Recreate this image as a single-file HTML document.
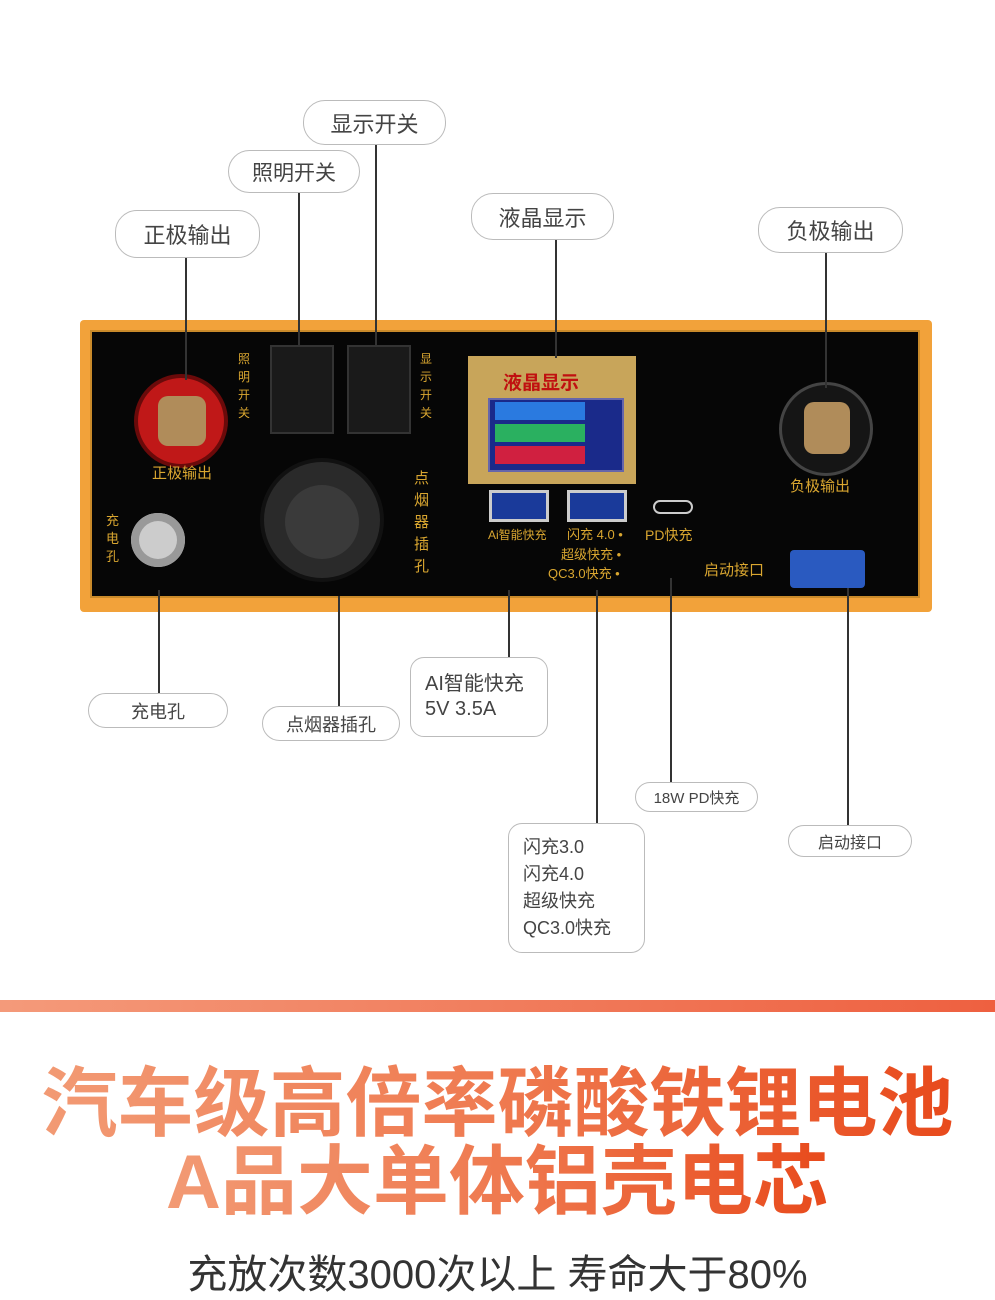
<!DOCTYPE html>
<html><head><meta charset="utf-8"><style>
body{margin:0;width:995px;height:1280px;background:#fff;position:relative;overflow:hidden;font-family:"Liberation Sans","Noto Sans CJK SC",sans-serif}
.p{position:absolute;border:1.5px solid #bbb;border-radius:22px;background:#fff;color:#444;display:flex;align-items:center;justify-content:center;box-sizing:border-box}
.l{position:absolute;width:1.5px;background:#333}
.a{position:absolute}
.t{position:absolute;color:#d9a630;font-size:15px;line-height:16px}
.g{background:linear-gradient(90deg,#f29a74 0%,#ef7a50 50%,#e84a1c 100%);-webkit-background-clip:text;background-clip:text;color:transparent}
</style></head><body>
<!-- panel -->
<div class="a" style="left:80px;top:320px;width:852px;height:292px;background:#f2a23a;border-radius:4px"></div>
<div class="a" style="left:90px;top:330px;width:830px;height:268px;background:#060606;border:2px solid #c98a2a;box-sizing:border-box"></div>
<!-- red terminal -->
<div class="a" style="left:138px;top:378px;width:86px;height:86px;border-radius:50%;background:#c01818;box-shadow:0 0 0 4px #6a0a0a"></div>
<div class="a" style="left:158px;top:396px;width:48px;height:50px;border-radius:10px;background:#b08c5a"></div>
<div class="t" style="left:152px;top:466px">正极输出</div>
<div class="t" style="left:238px;top:350px;width:16px;font-size:12px;line-height:18px">照明开关</div>
<div class="t" style="left:420px;top:350px;width:16px;font-size:12px;line-height:18px">显示开关</div>
<!-- switches -->
<div class="a" style="left:270px;top:345px;width:60px;height:85px;background:#1a1a1a;border:2px solid #333"></div>
<div class="a" style="left:347px;top:345px;width:60px;height:85px;background:#1a1a1a;border:2px solid #333"></div>
<!-- socket -->
<div class="a" style="left:264px;top:462px;width:116px;height:116px;border-radius:50%;background:#2a2a2a;box-shadow:0 0 0 4px #111"></div>
<div class="a" style="left:285px;top:485px;width:74px;height:74px;border-radius:50%;background:#3a3a3a"></div>
<div class="t" style="left:414px;top:468px;width:16px;line-height:22px">点烟器插孔</div>
<div class="t" style="left:106px;top:512px;width:16px;line-height:18px;font-size:13px">充电孔</div>
<div class="a" style="left:131px;top:513px;width:54px;height:54px;border-radius:50%;background:#ccc;box-shadow:inset 0 0 0 8px #999"></div>
<!-- LCD -->
<div class="a" style="left:468px;top:356px;width:168px;height:128px;background:#c8a55a"></div>
<div class="a" style="left:503px;top:368px;color:#c01010;font-weight:bold;font-size:19px">液晶显示</div>
<div class="a" style="left:488px;top:398px;width:132px;height:70px;background:#1a2a8a;border:2px solid #66a"></div>
<div class="a" style="left:495px;top:402px;width:90px;height:18px;background:#2a7ae0"></div>
<div class="a" style="left:495px;top:424px;width:90px;height:18px;background:#2ab060"></div>
<div class="a" style="left:495px;top:446px;width:90px;height:18px;background:#d02040"></div>
<!-- USB -->
<div class="a" style="left:489px;top:490px;width:60px;height:32px;background:#1a3a9a;border:3px solid #ccc;box-sizing:border-box"></div>
<div class="a" style="left:567px;top:490px;width:60px;height:32px;background:#1a3a9a;border:3px solid #ccc;box-sizing:border-box"></div>
<div class="a" style="left:653px;top:500px;width:40px;height:14px;border-radius:7px;border:2px solid #ccc;box-sizing:border-box"></div>
<div class="t" style="left:488px;top:527px;font-size:12px">Ai智能快充</div>
<div class="t" style="left:567px;top:527px;font-size:13px">闪充 4.0 •</div>
<div class="t" style="left:561px;top:547px;font-size:13px">超级快充 •</div>
<div class="t" style="left:548px;top:566px;font-size:13px">QC3.0快充 •</div>
<div class="t" style="left:645px;top:527px;font-size:14px">PD快充</div>
<div class="t" style="left:704px;top:563px;font-size:15px">启动接口</div>
<div class="a" style="left:790px;top:550px;width:75px;height:38px;background:#2a5ac0;border-radius:4px"></div>
<!-- knob -->
<div class="a" style="left:782px;top:385px;width:88px;height:88px;border-radius:50%;background:#151515;box-shadow:0 0 0 3px #444"></div>
<div class="a" style="left:804px;top:402px;width:46px;height:52px;border-radius:10px;background:#b08c5a"></div>
<div class="t" style="left:790px;top:479px">负极输出</div>
<!-- lines -->
<div class="l" style="left:375px;top:145px;height:200px"></div>
<div class="l" style="left:298px;top:193px;height:152px"></div>
<div class="l" style="left:185px;top:258px;height:122px"></div>
<div class="l" style="left:555px;top:240px;height:118px"></div>
<div class="l" style="left:825px;top:253px;height:135px"></div>
<div class="l" style="left:158px;top:590px;height:103px"></div>
<div class="l" style="left:338px;top:596px;height:110px"></div>
<div class="l" style="left:508px;top:590px;height:67px"></div>
<div class="l" style="left:670px;top:578px;height:204px"></div>
<div class="l" style="left:596px;top:590px;height:233px"></div>
<div class="l" style="left:847px;top:588px;height:237px"></div>
<!-- pills -->
<div class="p" style="left:303px;top:100px;width:143px;height:45px;font-size:22px">显示开关</div>
<div class="p" style="left:228px;top:150px;width:132px;height:43px;font-size:21px">照明开关</div>
<div class="p" style="left:115px;top:210px;width:145px;height:48px;font-size:22px">正极输出</div>
<div class="p" style="left:471px;top:193px;width:143px;height:47px;font-size:22px">液晶显示</div>
<div class="p" style="left:758px;top:207px;width:145px;height:46px;font-size:22px">负极输出</div>
<div class="p" style="left:88px;top:693px;width:140px;height:35px;font-size:18px">充电孔</div>
<div class="p" style="left:262px;top:706px;width:138px;height:35px;font-size:18px">点烟器插孔</div>
<div class="p" style="left:410px;top:657px;width:138px;height:80px;font-size:20px;border-radius:14px;justify-content:flex-start;padding-left:14px;line-height:25px">AI智能快充<br>5V 3.5A</div>
<div class="p" style="left:635px;top:782px;width:123px;height:30px;font-size:15px">18W PD快充</div>
<div class="p" style="left:508px;top:823px;width:137px;height:130px;font-size:18px;border-radius:14px;justify-content:flex-start;padding-left:14px;line-height:27px">闪充3.0<br>闪充4.0<br>超级快充<br>QC3.0快充</div>
<div class="p" style="left:788px;top:825px;width:124px;height:32px;font-size:16px">启动接口</div>
<!-- bottom -->
<div class="a" style="left:0;top:1000px;width:995px;height:12px;background:linear-gradient(90deg,#f49a7a,#ee6040)"></div>
<div class="a" style="left:0;top:1060px;width:995px;text-align:center;line-height:90px"><span class="g" style="font-size:76px;font-weight:bold">汽车级高倍率磷酸铁锂电池</span></div>
<div class="a" style="left:0;top:1140px;width:995px;text-align:center;line-height:86px"><span class="g" style="font-size:76px;font-weight:bold">A品大单体铝壳电芯</span></div>
<div class="a" style="left:0;top:1250px;width:995px;text-align:center;font-size:40px;line-height:50px;color:#333">充放次数3000次以上 寿命大于80%</div>
</body></html>
